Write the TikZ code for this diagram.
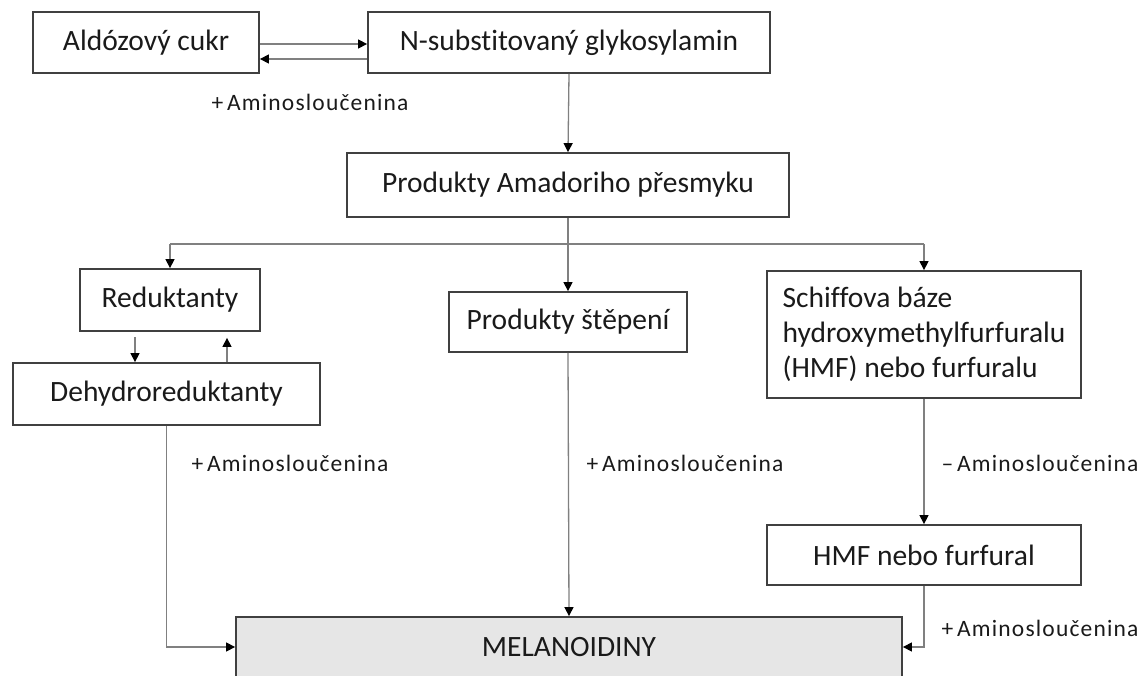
\documentclass[tikz,border=0pt]{standalone}
\usepackage{fontspec}
\setmainfont{Carlito}[Ligatures=NoCommon]
\newfontfamily\labfont[LetterSpace=5,Ligatures=NoCommon]{Carlito}
\usetikzlibrary{arrows.meta,calc}
\definecolor{boxline}{HTML}{404040}
\definecolor{conn}{HTML}{808080}
\definecolor{melfill}{HTML}{E6E6E6}
\definecolor{txt}{HTML}{1A1A1A}
\tikzset{
  box/.style={draw=boxline, line width=1.8pt, fill=white, inner sep=0pt, text=txt, font=\fontsize{29.5}{35}\selectfont},
  arr/.style={draw=conn, line width=1.3pt, -{Triangle[length=9pt,width=9pt,color=black]}},
  ln/.style={draw=conn, line width=1.3pt},
  lab/.style={inner sep=0pt, text=txt, font=\labfont\fontsize{23.5}{27}\selectfont}
}
\begin{document}
\begin{tikzpicture}[x=1pt,y=-1pt]
\useasboundingbox (0,0) rectangle (1145,676);
\clip (0,0) rectangle (1145,676);
\node[box, minimum width=226pt, minimum height=61pt] (aldo) at (146,42.5) {Aldózový cukr};
\node[box, minimum width=402pt, minimum height=61pt] (glyk) at (569,42.5) {N-substitovaný glykosylamin};
\node[box, minimum width=442pt, minimum height=64pt] (amad) at (568,185) {Produkty Amadoriho přesmyku};
\node[box, minimum width=180pt, minimum height=62pt] (red) at (170,300) {Reduktanty};
\node[box, minimum width=307pt, minimum height=62pt] (dehy) at (166.5,394) {Dehydroreduktanty};
\node[box, minimum width=238pt, minimum height=60pt] (step) at (568,322) {Produkty štěpení};
\node[box, minimum width=314pt, minimum height=127pt, align=left] (schiff) at (924,334.5) {Schiffova báze\\hydroxymethylfurfuralu\\(HMF) nebo furfuralu};
\node[box, minimum width=314pt, minimum height=60pt] (hmf) at (924,555) {HMF nebo furfural};
\node[box, fill=melfill, minimum width=666pt, minimum height=60pt] (mel) at (569,647) {MELANOIDINY};

\node[lab] (l1) at (310,102) {+\,Aminosloučenina};
\node[lab] (l2) at (290,463) {+\,Aminosloučenina};
\node[lab] (l3) at (685,463) {+\,Aminosloučenina};
\node[lab] (l4) at (1040,463) {–\,Aminosloučenina};
\node[lab] (l5) at (1040,628) {+\,Aminosloučenina};

% reversible step
\draw[arr] ([yshift=-1.5pt]aldo.east) -- ([yshift=-1.5pt]glyk.west);
\draw[arr] ([yshift=-16.5pt]glyk.west) -- ([yshift=-16.5pt]aldo.east);
\draw[arr] (glyk.south) -- (amad.north);
% branching
\coordinate (br) at ($(amad.south)+(0,26)$);
\draw[ln] (amad.south) -- (br);
\draw[ln] (red.north |- br) -- (schiff.north |- br);
\draw[arr] (red.north |- br) -- (red.north);
\draw[arr] (br) -- (step.north);
\draw[arr] (schiff.north |- br) -- (schiff.north);
% reduktanty <-> dehydroreduktanty
\coordinate (rd1) at ($(red.south)+(-35,5)$);
\coordinate (rd2) at ($(red.south)+(57,6)$);
\draw[arr] (rd1) -- (rd1 |- dehy.north);
\draw[arr] (rd2 |- dehy.north) -- (rd2);
% to melanoidiny
\draw[arr] (dehy.south) -- (dehy.south |- mel.west) -- (mel.west);
\draw[arr] (step.south) -- (mel.north);
\draw[arr] (schiff.south) -- (hmf.north);
\draw[arr] (hmf.south) -- (hmf.south |- mel.east) -- (mel.east);
\end{tikzpicture}
\end{document}
